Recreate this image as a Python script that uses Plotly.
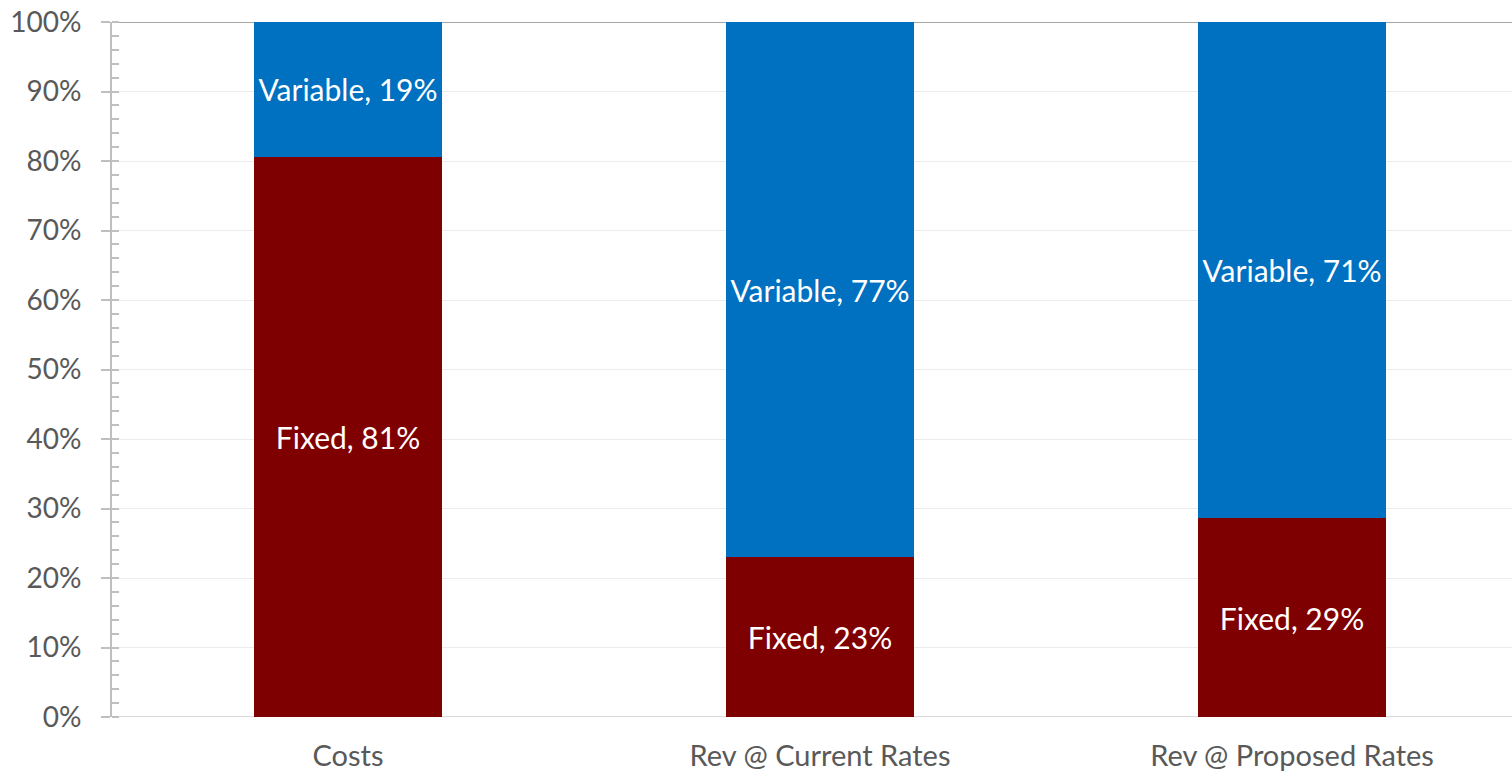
import plotly.graph_objects as go

categories = ["Costs", "Rev @ Current Rates", "Rev @ Proposed Rates"]
fixed = [80.6, 23.0, 28.6]
variable = [19.4, 77.0, 71.4]
y_ticks = [0, 10, 20, 30, 40, 50, 60, 70, 80, 90, 100]
y_tick_labels = [f"{v}%" for v in y_ticks]

FONT = "Lato, Open Sans, sans-serif"

fig = go.Figure()
fig.add_trace(go.Bar(
    x=categories, y=fixed, name="Fixed", marker=dict(color="#7f0000", line=dict(width=0)),
    text=[f"Fixed, {round(v)}%" for v in fixed], textposition="inside",
    insidetextanchor="middle", textfont=dict(color="white", size=30, family=FONT),
    width=0.4,
))
fig.add_trace(go.Bar(
    x=categories, y=variable, name="Variable", marker=dict(color="#0070c0", line=dict(width=0)),
    text=[f"Variable, {round(v)}%" for v in variable], textposition="inside",
    insidetextanchor="middle", textfont=dict(color="white", size=30, family=FONT),
    width=0.4,
))

fig.update_layout(
    barmode="stack",
    width=1512, height=774,
    margin=dict(l=112, r=0, t=22, b=57),
    paper_bgcolor="white", plot_bgcolor="white",
    showlegend=False,
    uniformtext=dict(mode="show", minsize=10),
    font=dict(family=FONT, color="#595959"),
    xaxis=dict(
        range=[-0.5, 2.466], showgrid=False, ticks="", showline=False,
        tickfont=dict(size=29, color="#595959", family=FONT),
        ticklabelstandoff=19, automargin=False,
        zeroline=False,
    ),
    yaxis=dict(
        range=[0, 100], tickvals=y_ticks, ticktext=y_tick_labels,
        tickfont=dict(size=28, color="#595959", family=FONT),
        ticklabelstandoff=14, automargin=False,
        showgrid=True, gridcolor="#ececec", gridwidth=1,
        showline=True, linecolor="#bfbfbf", linewidth=2,
        ticks="outside", ticklen=9, tickcolor="#bfbfbf", tickwidth=2,
        minor=dict(dtick=2, ticks="inside", ticklen=7, tickcolor="#bfbfbf", tickwidth=2, showgrid=False),
        zeroline=False,
    ),
)
fig.add_shape(type="line", xref="paper", yref="y", x0=0, x1=1, y0=100, y1=100,
              line=dict(color="#a6a6a6", width=2), layer="below")
fig.add_shape(type="line", xref="paper", yref="y", x0=0, x1=1, y0=0, y1=0,
              line=dict(color="#d9d9d9", width=2), layer="below")

fig.write_html("out.html")
